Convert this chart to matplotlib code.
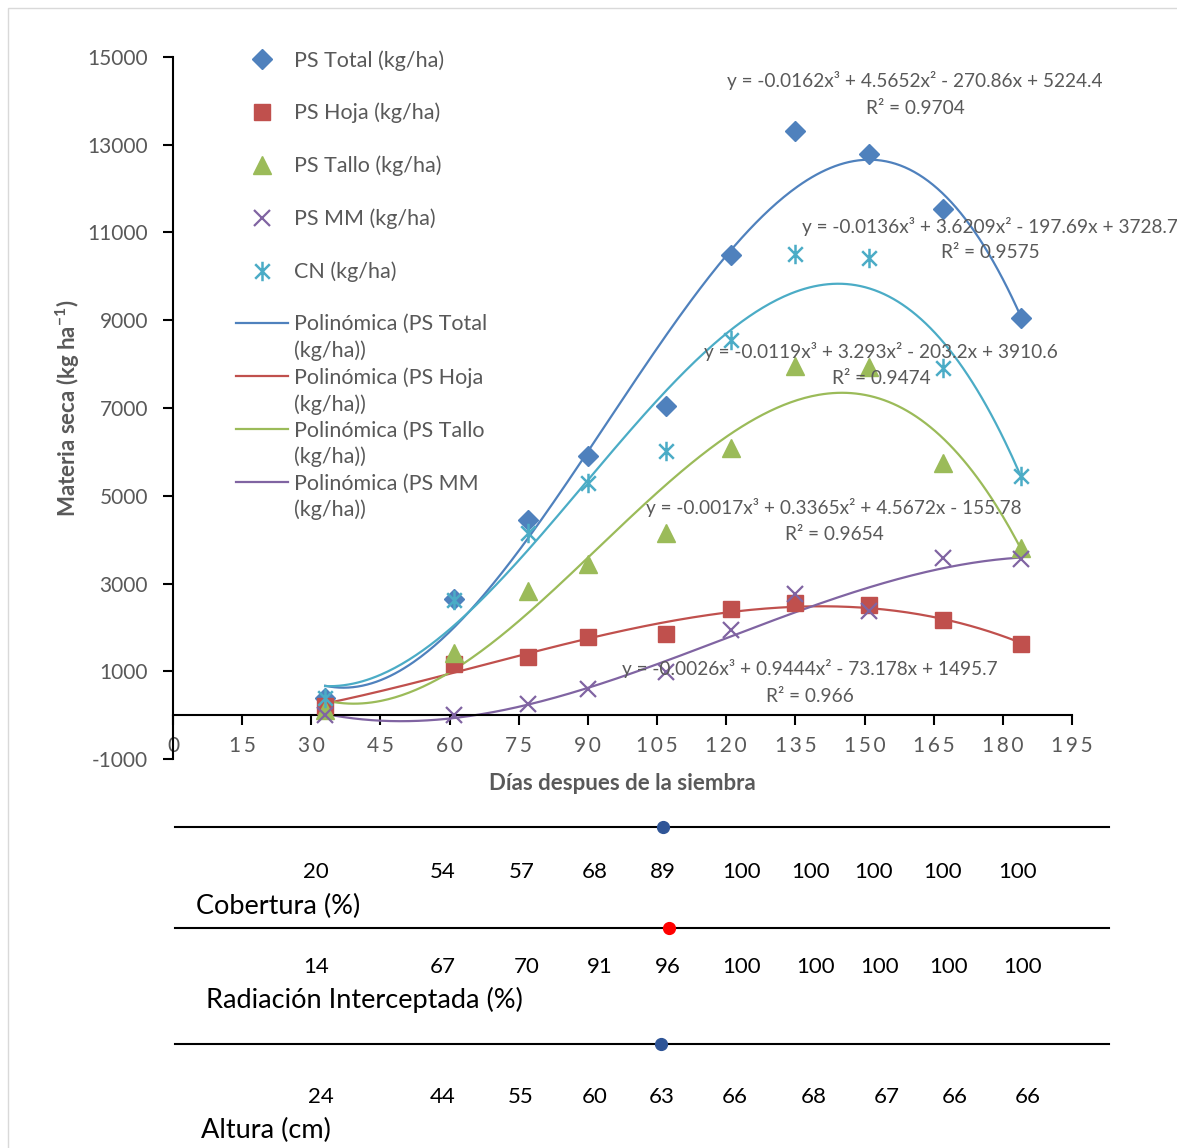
import numpy as np
import matplotlib
matplotlib.use("Agg")
import matplotlib.pyplot as plt
from matplotlib.lines import Line2D
from matplotlib.path import Path
from matplotlib.patches import Rectangle

plt.rcParams["font.family"] = ["Lato", "DejaVu Sans"]
plt.rcParams["mathtext.fontset"] = "custom"
plt.rcParams["mathtext.bf"] = "Lato:bold"
plt.rcParams["mathtext.rm"] = "Lato"
plt.rcParams["axes.unicode_minus"] = False

# dias despues de la siembra
days = [33, 61, 77, 90, 107, 121, 135, 151, 167, 184]
ps_total = [380, 2640, 4450, 5900, 7040, 10490, 13310, 12800, 11540, 9040]
ps_hoja = [200, 1170, 1330, 1790, 1840, 2430, 2550, 2500, 2170, 1620]
ps_tallo = [120, 1420, 2840, 3450, 4140, 6080, 7950, 7940, 5750, 3800]
ps_mm = [10, 0, 250, 590, 990, 1930, 2770, 2370, 3580, 3560]
cn = [390, 2630, 4140, 5290, 6030, 8550, 10510, 10420, 7910, 5440]

# tabla inferior
cobertura = [20, 54, 57, 68, 89, 100, 100, 100, 100, 100]
radiacion = [14, 67, 70, 91, 96, 100, 100, 100, 100, 100]
altura = [24, 44, 55, 60, 63, 66, 68, 67, 66, 66]

eq_total = ["y = -0.0162x³ + 4.5652x² - 270.86x + 5224.4", "R² = 0.9704"]
eq_cn = ["y = -0.0136x³ + 3.6209x² - 197.69x + 3728.7", "R² = 0.9575"]
eq_tallo = ["y = -0.0119x³ + 3.293x² - 203.2x + 3910.6", "R² = 0.9474"]
eq_hoja = ["y = -0.0017x³ + 0.3365x² + 4.5672x - 155.78", "R² = 0.9654"]
eq_mm = ["y = -0.0026x³ + 0.9444x² - 73.178x + 1495.7", "R² = 0.966"]

W, H = 1177, 1148
GRAY = "#595959"

# columnas de la tabla (pixeles, como en la imagen)
cols_cob = [316, 443, 522, 595, 663, 742, 811, 874, 943, 1018]
cols_rad = [316, 443, 527, 600, 668, 742, 816, 880, 949, 1023]
cols_alt = [321, 443, 521, 595, 662, 735, 814, 887, 955, 1028]


def fx(px):
    return px / W


def fy(py):
    return 1 - py / H


fig = plt.figure(figsize=(W / 100, H / 100), dpi=100)
fig.patches.append(Rectangle((fx(8), -0.01), 1.0, fy(8) + 0.01, transform=fig.transFigure,
                             fill=False, edgecolor="#d9d9d9", lw=1))

ax = fig.add_axes([fx(173), fy(759), (1072 - 173) / W, 702 / H])
ax.set_xlim(0, 195)
ax.set_ylim(-1000, 15000)

star = Path([(0, -1), (0, 1), (-0.75, -0.75), (0.75, 0.75), (-0.75, 0.75), (0.75, -0.75)],
            [Path.MOVETO, Path.LINETO, Path.MOVETO, Path.LINETO, Path.MOVETO, Path.LINETO])

series = [
    ("PS Total (kg/ha)", "PS Total", ps_total, "#4f81bd", dict(marker="D", ms=10.5)),
    ("PS Hoja (kg/ha)", "PS Hoja", ps_hoja, "#c0504d", dict(marker="s", ms=12)),
    ("PS Tallo (kg/ha)", "PS Tallo", ps_tallo, "#9bbb59", dict(marker="^", ms=13)),
    ("PS MM (kg/ha)", "PS MM", ps_mm, "#8064a2", dict(marker="x", ms=11, mew=1.6)),
    ("CN (kg/ha)", "CN", cn, "#4bacc6", dict(marker=star, ms=14, mew=1.8)),
]

xs = np.linspace(days[0], days[-1], 300)
marker_handles, line_handles = [], []
for label, short, vals, color, mk in series:
    coef = np.polyfit(days, vals, 3)
    ln, = ax.plot(xs, np.polyval(coef, xs), color=color, lw=1.6, zorder=2)
    mh, = ax.plot(days, vals, linestyle="none", color=color, mec=color, zorder=3, **mk)
    marker_handles.append(mh)
    if short != "CN":
        line_handles.append((ln, short))

# ejes
for s in ("top", "right"):
    ax.spines[s].set_visible(False)
ax.spines["bottom"].set_position(("data", 0))
ax.spines["bottom"].set_linewidth(1.5)
ax.spines["left"].set_linewidth(1.5)
ax.set_xticks(np.arange(0, 196, 15))
ax.set_xticklabels(["\u2009".join(str(v)) for v in range(0, 196, 15)])
ax.set_yticks(np.arange(-1000, 15001, 2000))
ax.tick_params(axis="both", direction="out", length=7, width=1.5, color="black",
               labelsize=15, labelcolor=GRAY)
ax.tick_params(axis="x", pad=8)
ax.tick_params(axis="y", pad=11)

ax.set_ylabel("Materia seca (kg ha$^{\\mathbf{-1}}$)", fontsize=16, fontweight="bold", color=GRAY)
ax.yaxis.set_label_coords((82 - 173) / 899, 0.5)
ax.set_xlabel("Días despues de la siembra", fontsize=16, fontweight="bold", color=GRAY)
ax.xaxis.set_label_coords(0.5, (759 - 773) / 702)

# leyenda
blank = Line2D([], [], linestyle="none")
handles, labels = [], []
for (label, short, vals, color, mk), mh in zip(series, marker_handles):
    handles += [mh, blank]
    labels += [label, " "]
for ln, short in line_handles:
    handles += [ln, blank]
    labels += ["Polinómica (%s" % short, "(kg/ha))"]
ax.legend(handles, labels, loc="upper left", bbox_to_anchor=(fx(236), fy(50)),
          bbox_transform=fig.transFigure, frameon=False, fontsize=15.5, labelcolor=GRAY,
          labelspacing=0.285, handlelength=2.4, handletextpad=0.3, borderpad=0,
          borderaxespad=0, numpoints=1)

# ecuaciones
for (eq, r2), cx, y1, y2 in [(eq_total, 915, 81, 108), (eq_cn, 990, 226, 252),
                             (eq_tallo, 881, 352, 379), (eq_hoja, 834, 508, 534),
                             (eq_mm, 810, 669, 696)]:
    fig.text(fx(cx), fy(y1), eq, ha="center", va="center", fontsize=13.7, color=GRAY)
    fig.text(fx(cx), fy(y2), r2, ha="center", va="center", fontsize=13.7, color=GRAY)

# tabla inferior
rows = [
    (cobertura, cols_cob, "Cobertura (%)", 827, 872, 906, 196, 663, "#2f5597"),
    (radiacion, cols_rad, "Radiación Interceptada (%)", 928, 967, 1000, 206, 669, "#ff0000"),
    (altura, cols_alt, "Altura (cm)", 1044, 1097, 1130, 201, 661, "#2f5597"),
]
for vals, cols, name, yline, ynum, yname, xname, xdot, dcol in rows:
    fig.add_artist(Line2D([fx(175), fx(1109)], [fy(yline)] * 2, color="black", lw=1.5))
    fig.add_artist(Line2D([fx(xdot)], [fy(yline)], marker="o", ms=8.5, color=dcol))
    for cx, v in zip(cols, vals):
        fig.text(fx(cx), fy(ynum), str(v), ha="center", va="center", fontsize=16, color="black")
    fig.text(fx(xname), fy(yname), name, ha="left", va="center", fontsize=19.5, color="black")

fig.savefig("out.png", dpi=100)
